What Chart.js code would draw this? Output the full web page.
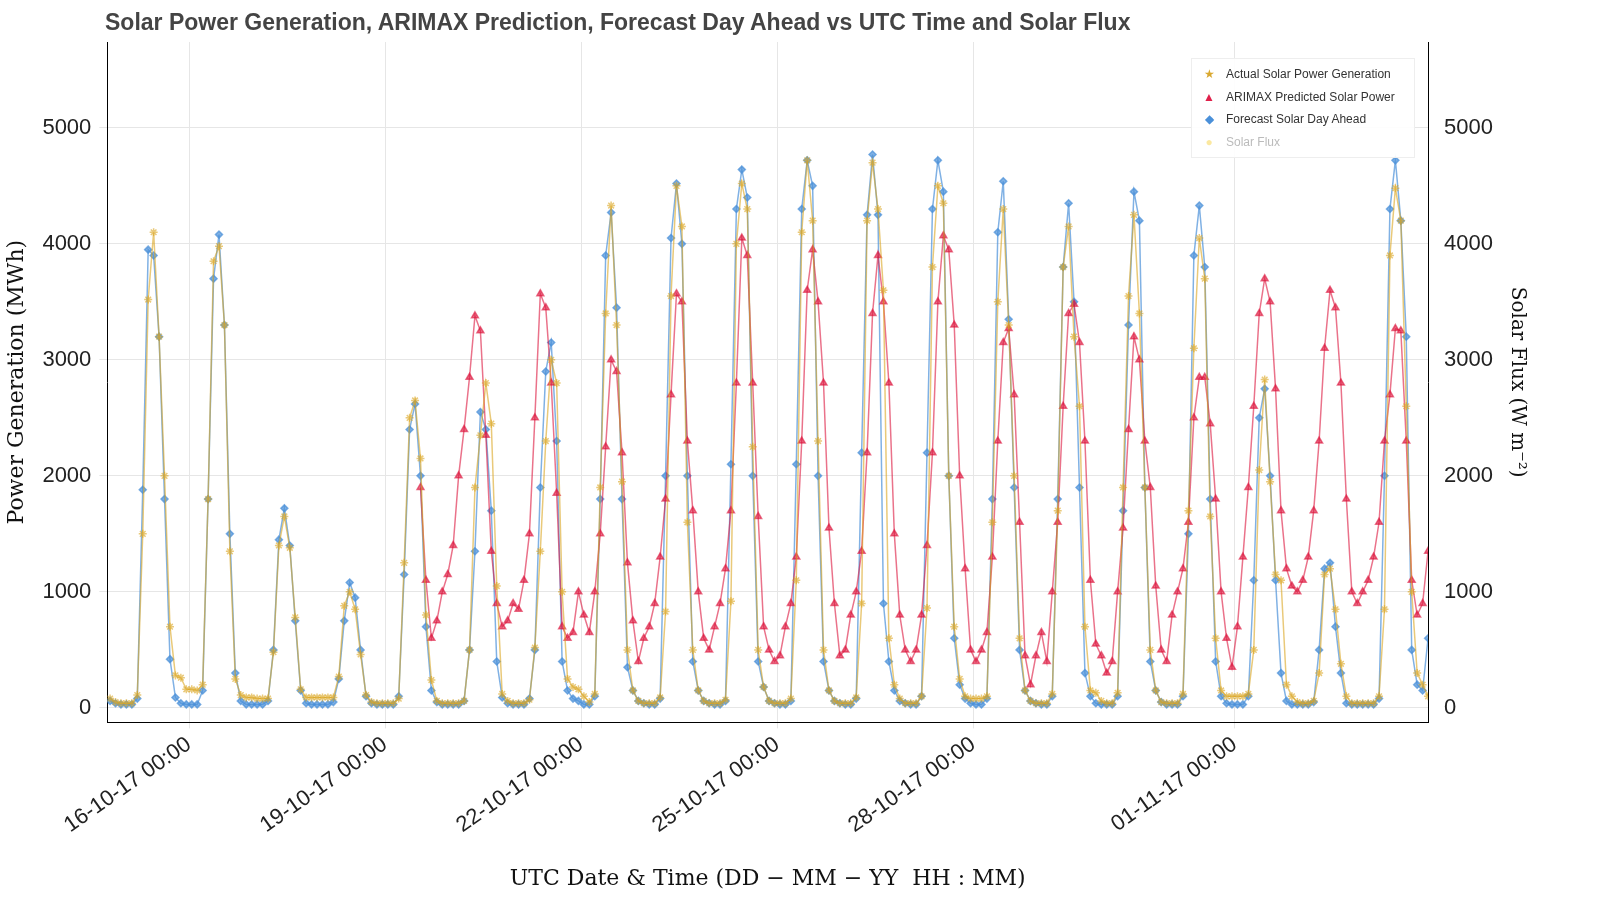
<!DOCTYPE html>
<html><head><meta charset="utf-8">
<script src="https://cdn.jsdelivr.net/npm/chart.js@4.4.0/dist/chart.umd.min.js"></script>
<style>
body{margin:0;background:#fff;}
#wrap{position:relative;width:1600px;height:900px;}
#title{position:absolute;left:105px;top:9px;font:bold 23px "Liberation Sans",Arial,sans-serif;color:#444;white-space:nowrap;}
#legend{position:absolute;left:1191px;top:58px;width:210px;padding:4px 6px;background:rgba(255,255,255,0.9);border:1px solid #eee;font:12px "Liberation Sans",Arial,sans-serif;color:#333;}
#legend div{height:22.5px;line-height:22.5px;}
#legend span{display:inline-block;width:22px;text-align:center;margin-right:6px;}
</style></head><body>
<div id="wrap"><canvas id="c" width="1600" height="900"></canvas>
<div id="title">Solar Power Generation, ARIMAX Prediction, Forecast Day Ahead vs UTC Time and Solar Flux</div>
<div id="legend">
<div><span style="color:#d9a830">&#9733;</span>Actual Solar Power Generation</div>
<div><span style="color:#e0204a">&#9650;</span>ARIMAX Predicted Solar Power</div>
<div><span style="color:#4a90d9">&#9670;</span>Forecast Solar Day Ahead</div>
<div style="color:#bbb"><span style="color:#fbe8a0">&#9679;</span>Solar Flux</div>
</div></div>
<script>
// samples every 2 h at odd UTC hours (01,03,...,23); hour 0 = 16-10-17 00:00
const startHour = -29; // 14-10-17 19:00
const days = ['14-10','15-10','16-10','17-10','18-10','19-10','20-10','21-10','22-10','23-10','24-10','25-10','26-10','27-10','28-10','29-10','30-10','31-10','01-11','02-11','03-11'];
const tickHours = [0, 72, 144, 216, 288, 384];

const actualRows = [
  [80,50,40],
  [40,40,110,1500,3520,4100,3200,2000,700,280,260,160],
  [160,150,200,1800,3850,3980,3300,1350,250,110,90,90],
  [80,80,80,480,1400,1650,1380,780,160,90,90,90],
  [90,90,90,270,880,1000,850,460,110,50,40,40],
  [40,40,80,1250,2500,2650,2150,800,240,60,40,40],
  [40,40,60,500,1900,2350,2800,2450,1050,120,60,40],
  [40,40,70,520,1350,2300,3000,2800,1000,250,180,160],
  [100,50,120,1900,3400,4330,3300,1950,500,150,60,40],
  [40,40,90,830,3550,4500,4150,1600,500,150,60,40],
  [40,40,70,920,4000,4520,4300,2250,500,180,60,40],
  [40,40,80,1100,4100,4720,4200,2300,500,150,60,40],
  [40,40,90,900,4200,4700,4300,3600,600,200,80,40],
  [40,40,100,860,3800,4500,4350,2000,700,250,100,80],
  [80,80,100,1600,3500,4300,3300,2000,600,150,60,40],
  [40,40,120,1700,3800,4150,3200,2600,700,150,130,60],
  [40,40,130,1900,3550,4250,3400,1900,500,150,50,40],
  [40,40,120,1700,3100,4050,3700,1650,600,150,100,100],
  [100,100,120,500,2050,2830,1950,1150,1100,200,100,50],
  [40,40,60,300,1150,1200,850,380,100,40,40,40],
  [40,40,100,850,3900,4480,4200,2600,1000,300,200,100]
];
const arimaxRows = [
  [null,null,null],
  new Array(12).fill(null),
  new Array(12).fill(null),
  new Array(12).fill(null),
  new Array(12).fill(null),
  [null,null,null,null,null,null,1900,1100,600,750,1000,1150],
  [1400,2000,2400,2850,3380,3250,2350,1350,900,700,750,900],
  [850,1100,1500,2500,3570,3450,2800,1850,700,600,650,1000],
  [800,650,1000,1500,2250,3000,2900,2200,1250,750,400,600],
  [700,900,1300,1800,2700,3570,3500,2300,1700,1000,600,500],
  [700,900,1200,1700,2800,4050,3900,2800,1650,700,500,400],
  [450,700,900,1300,2300,3600,3950,3500,2800,1550,900,450],
  [500,800,1000,1350,2200,3400,3900,3500,2800,1500,800,500],
  [400,500,800,1400,2200,3500,4070,3950,3300,2000,1200,500],
  [400,500,650,1300,2300,3150,3270,2700,1600,450,200,450],
  [650,400,1000,1600,2600,3400,3480,3150,2300,1100,550,450],
  [300,400,1000,1550,2400,3200,3000,2300,1900,1050,500,400],
  [800,1000,1200,1600,2500,2850,2850,2450,1800,1000,600,350],
  [700,1300,1900,2600,3400,3700,3500,2750,1700,1200,1050,1000],
  [1100,1300,1700,2300,3100,3600,3450,2800,1800,1000,900,1000],
  [1100,1300,1600,2300,2700,3270,3250,2300,1100,800,900,1350]
];
const forecastRows = [
  [60,40,30],
  [30,30,80,1880,3950,3900,3200,1800,420,90,40,30],
  [30,30,150,1800,3700,4080,3300,1500,300,60,30,30],
  [30,30,60,500,1450,1720,1400,750,150,40,30,30],
  [30,30,50,250,750,1080,950,500,100,40,30,30],
  [30,30,100,1150,2400,2620,2000,700,150,50,30,30],
  [30,30,60,500,1350,2550,2400,1700,400,90,40,30],
  [30,30,80,500,1900,2900,3150,2300,400,150,80,60],
  [30,30,100,1800,3900,4270,3450,1800,350,150,60,40],
  [30,30,80,2000,4050,4520,4000,2000,400,150,60,40],
  [30,30,60,2100,4300,4640,4400,2000,400,180,60,40],
  [30,30,60,2100,4300,4720,4500,2000,400,150,60,40],
  [30,30,80,2200,4250,4770,4250,900,400,150,60,40],
  [30,30,100,2200,4300,4720,4450,2000,600,200,80,40],
  [30,30,80,1800,4100,4540,3350,1900,500,150,60,40],
  [30,30,100,1800,3800,4350,3500,1900,300,100,40,30],
  [30,30,100,1700,3300,4450,4200,1900,400,150,50,30],
  [30,30,100,1500,3900,4330,3800,1800,400,100,40,30],
  [30,30,100,1100,2500,2750,2000,1100,300,60,30,30],
  [30,30,50,500,1200,1250,700,300,40,30,30,30],
  [30,30,80,2000,4300,4720,4200,3200,500,200,150,600]
];

function toPoints(rows) {
  const out = [];
  let h = startHour;
  rows.forEach(r => r.forEach(v => { out.push({x: h, y: v}); h += 2; }));
  return out;
}

function fmtTick(v) {
  const d = new Date(Date.UTC(2017, 9, 16) + v * 3600000);
  const p = n => String(n).padStart(2, '0');
  return `${p(d.getUTCDate())}-${p(d.getUTCMonth() + 1)}-17 00:00`;
}

const serif = '"DejaVu Serif","Liberation Serif",serif';
const sans = '"Liberation Sans",Arial,sans-serif';
const yTicks = {font: {family: sans, size: 22}, color: '#222', padding: 8, callback: v => String(v)};
const yTickList = ax => { ax.ticks = [0, 1000, 2000, 3000, 4000, 5000].map(v => ({value: v})); };

new Chart(document.getElementById('c'), {
  type: 'line',
  data: {
    datasets: [
      {label: 'Actual Solar Power Generation', data: toPoints(actualRows),
       borderColor: 'rgba(218,165,32,0.6)', backgroundColor: 'rgba(218,165,32,0.6)',
       pointStyle: 'star', pointRadius: 4, borderWidth: 1.5},
      {label: 'ARIMAX Predicted Solar Power', data: toPoints(arimaxRows),
       borderColor: 'rgba(220,20,60,0.6)', backgroundColor: 'rgba(220,20,60,0.6)',
       pointStyle: 'triangle', pointRadius: 4, borderWidth: 1.5},
      {label: 'Forecast Solar Day Ahead', data: toPoints(forecastRows),
       borderColor: 'rgba(74,144,217,0.7)', backgroundColor: 'rgba(74,144,217,0.7)',
       pointStyle: 'rectRot', pointRadius: 3.5, borderWidth: 1.5},
      {label: 'Solar Flux', data: [], borderColor: 'rgba(250,225,140,0.5)', yAxisID: 'y2'}
    ]
  },
  options: {
    responsive: false, animation: false,
    layout: {padding: {left: 0, right: 67, top: 42, bottom: 4}},
    plugins: {legend: {display: false}, tooltip: {enabled: false}},
    scales: {
      x: {type: 'linear', min: -30, max: 455,
        afterBuildTicks: ax => { ax.ticks = tickHours.map(v => ({value: v})); },
        ticks: {callback: fmtTick, maxRotation: 35, minRotation: 35, font: {family: sans, size: 22}, color: '#222'},
        grid: {color: '#e6e6e6', tickLength: 6}, border: {color: '#000'},
        title: {display: true, text: 'UTC Date & Time (DD \u2212 MM \u2212 YY  HH : MM)', font: {family: serif, size: 22}, color: '#111', padding: {top: 24}}},
      y: {min: -125, max: 5740, ticks: yTicks, grid: {color: '#e6e6e6'}, border: {color: '#000'},
        afterBuildTicks: yTickList,
        title: {display: true, text: 'Power Generation (MWh)', font: {family: serif, size: 22}, color: '#111'}},
      y2: {position: 'right', min: -125, max: 5740, ticks: yTicks, grid: {display: false}, border: {color: '#000'},
        afterBuildTicks: yTickList,
        title: {display: true, text: 'Solar Flux (W m\u207B\u00B2)', font: {family: serif, size: 20}, color: '#111'}}
    }
  }
});
</script></body></html>
